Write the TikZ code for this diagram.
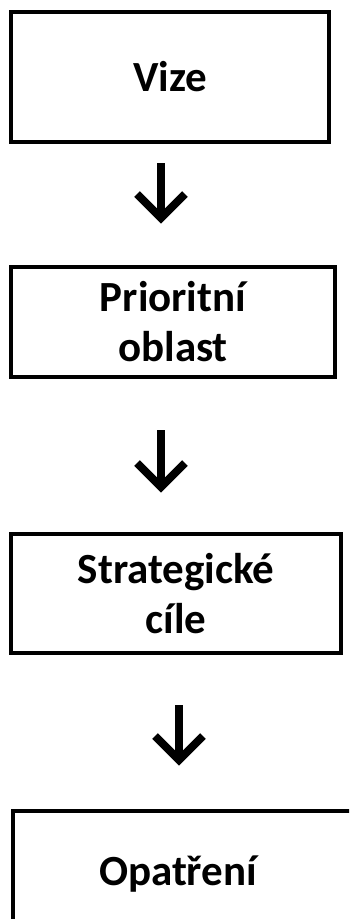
\documentclass[tikz,border=0pt]{standalone}
\usepackage{fontspec}
\setmainfont{Carlito}
\begin{document}
\begin{tikzpicture}[x=1pt,y=-1pt,
  box/.style={draw, line width=4pt, inner sep=0pt, font=\bfseries\fontsize{43}{50}\selectfont, align=center},
  arr/.style={line width=8pt, line join=miter},
  arrowhead/.style={line width=8pt, line join=miter}]
\useasboundingbox (0,0) rectangle (349,919);
\node[box, minimum width=318pt, minimum height=130pt] (b1) at (170,77) {Vize};
\node[box, minimum width=324pt, minimum height=110pt] (b2) at (173,322) {Prioritní\\oblast};
\node[box, minimum width=330pt, minimum height=119pt] (b3) at (176,593.5) {Strategické\\cíle};
\begin{scope}
\clip (0,0) rectangle (349,919);
\node[box, anchor=north west, text width=300pt, align=left, inner xsep=86pt, inner ysep=0pt, text height=74pt, text depth=60pt] (b4) at (11,809) {Opatření};
\end{scope}
% arrows
\coordinate (a1s) at (161,163); \coordinate (a1e) at (161,218);
\coordinate (a2s) at (161,430); \coordinate (a2e) at (161,487);
\coordinate (a3s) at (179,705); \coordinate (a3e) at (179,760);
\foreach \s/\e in {a1s/a1e, a2s/a2e, a3s/a3e}{
  \draw[arr] (\s) -- (\e);
  \draw[arrowhead] ([shift={(-24,-24)}]\e) -- (\e) -- ([shift={(24,-24)}]\e);
}
\end{tikzpicture}
\end{document}
